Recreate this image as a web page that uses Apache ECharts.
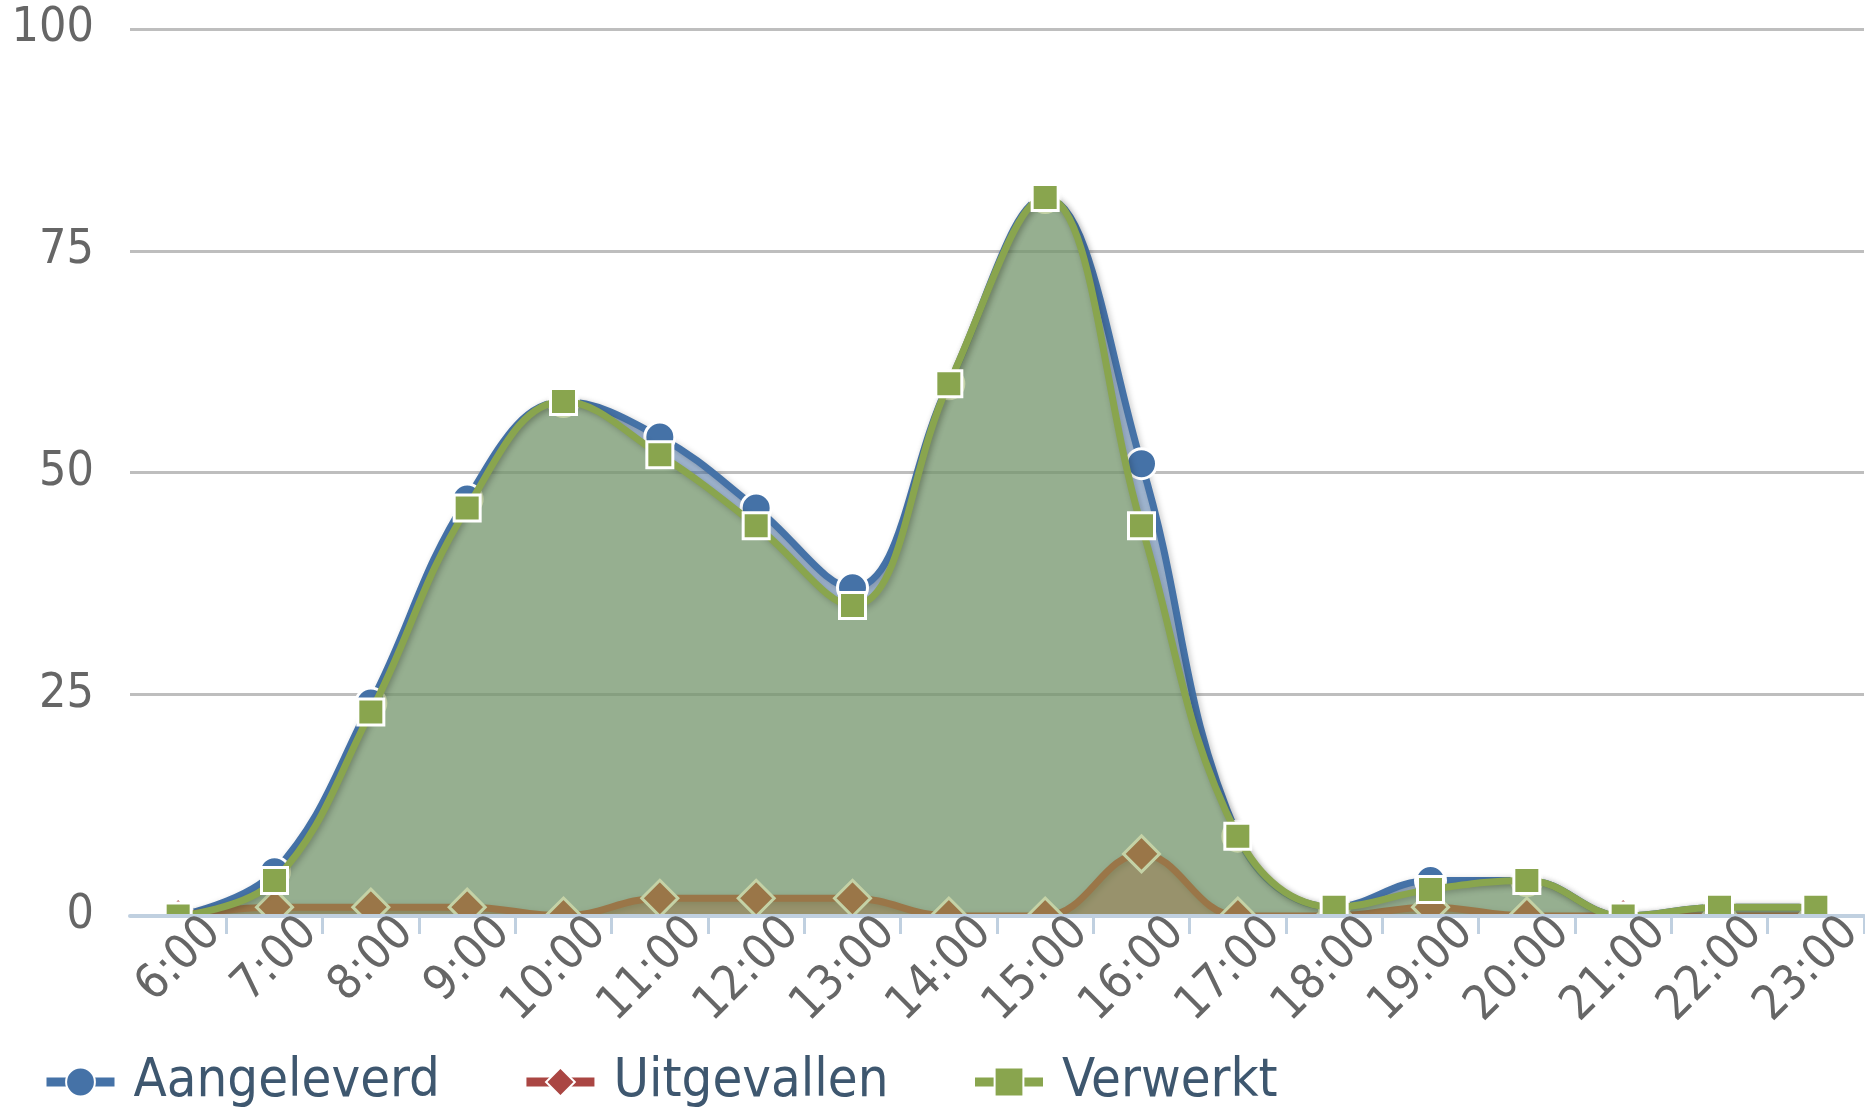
<!DOCTYPE html>
<html>
<head>
<meta charset="utf-8">
<script src="https://cdn.jsdelivr.net/npm/echarts@6/dist/echarts.min.js"></script>
<style>
  html, body { margin: 0; padding: 0; background: #ffffff; overflow: hidden; }
  #chart { width: 1865px; height: 1107px; }
</style>
</head>
<body>
<div id="chart"></div>
<script>
const categories = ['6:00','7:00','8:00','9:00','10:00','11:00','12:00','13:00','14:00','15:00','16:00','17:00','18:00','19:00','20:00','21:00','22:00','23:00'];
const aangeleverd = [0, 5, 24, 47, 58, 54, 46, 37, 60, 81, 51, 9, 1, 4, 4, 0, 1, 1];
const uitgevallen = [0, 1, 1, 1, 0, 2, 2, 2, 0, 0, 7, 0, 0, 1, 0, 0, 0, 0];
const verwerkt    = [0, 4, 23, 46, 58, 52, 44, 35, 60, 81, 44, 9, 1, 3, 4, 0, 1, 1];
const yTicks = [0, 25, 50, 75, 100];

const FONT = '"DejaVu Sans Condensed", "DejaVu Sans", sans-serif';
const shadow = { shadowColor: 'rgba(0,0,0,0.22)', shadowBlur: 6, shadowOffsetX: 2, shadowOffsetY: 2 };

function mkSeries(name, data, color, symbol, size, z) {
  return {
    name: name,
    type: 'line',
    data: data,
    z: z,
    smooth: 0.4,
    showAllSymbol: true,
    symbol: symbol,
    symbolSize: size,
    itemStyle: { color: color, borderColor: '#ffffff', borderWidth: 3, opacity: 1 },
    lineStyle: Object.assign({ color: color, width: 7 }, shadow),
    areaStyle: { color: color, opacity: 0.5 },
    emphasis: { disabled: true },
    animation: false
  };
}

const GRID_LEFT = 130;
const chart = echarts.init(document.getElementById('chart'), null, { renderer: 'canvas' });
chart.setOption({
  backgroundColor: '#ffffff',
  animation: false,
  grid: { left: GRID_LEFT, right: 1, top: 29, bottom: 191, containLabel: false, outerBoundsMode: 'none' },
  xAxis: {
    type: 'category',
    data: categories,
    boundaryGap: true,
    z: 6,
    axisLine: { show: true, lineStyle: { color: '#C0D0E0', width: 4 } },
    axisTick: { show: true, length: 18, lineStyle: { color: '#C0D0E0', width: 3 }, interval: function (i) { return i !== 0; } },
    splitLine: { show: false },
    axisLabel: {
      interval: 0,
      rotate: 45,
      margin: 45,
      padding: [0, -50, 0, 0],
      color: '#666666',
      fontSize: 48,
      fontFamily: FONT
    }
  },
  yAxis: {
    type: 'value',
    min: yTicks[0],
    max: yTicks[yTicks.length - 1],
    interval: yTicks[1] - yTicks[0],
    axisLine: { show: false },
    axisTick: { show: false },
    splitLine: { show: true, lineStyle: { color: '#BEBEBE', width: 3 } },
    axisLabel: { margin: 36, color: '#666666', fontSize: 48, fontFamily: FONT }
  },
  legend: {
    left: 37,
    top: 1050,
    orient: 'horizontal',
    itemWidth: 68,
    itemHeight: 36,
    itemGap: 82,
    lineStyle: { width: 9, shadowBlur: 0, shadowOffsetX: 0, shadowOffsetY: 0, shadowColor: 'transparent' },
    textStyle: { color: '#3E576F', fontSize: 54, fontFamily: FONT, padding: [0, 0, 0, 14] },
    selectedMode: false
  },
  tooltip: { show: false },
  series: [
    mkSeries('Aangeleverd', aangeleverd, '#4572A7', 'circle', 30, 2),
    mkSeries('Uitgevallen', uitgevallen, '#AA4643', 'diamond', 36, 3),
    mkSeries('Verwerkt', verwerkt, '#89A54E', 'rect', 26, 4)
  ]
});

// White mask below the plot so that markers sitting on the zero line are clipped like the original.
const zeroY = chart.convertToPixel({ yAxisIndex: 0 }, 0);
chart.setOption({
  graphic: [{
    type: 'rect',
    z: 5,
    silent: true,
    shape: { x: GRID_LEFT - 10, y: zeroY + 1, width: 1865 - GRID_LEFT + 10, height: 1040 - zeroY },
    style: { fill: '#ffffff' }
  }]
});
</script>
</body>
</html>
